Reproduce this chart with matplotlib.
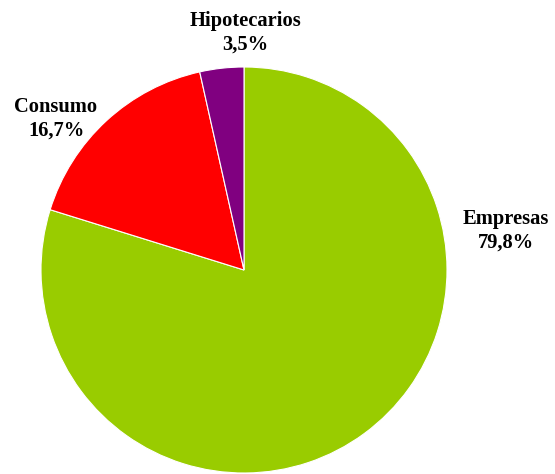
import matplotlib.pyplot as plt

labels = ['Empresas', 'Consumo', 'Hipotecarios']
shares = [79.8, 16.7, 3.5]
colors = ['#99CC00', '#FF0000', '#800080']

W, H = 555, 474
fig = plt.figure(figsize=(W / 100, H / 100), dpi=100)
ax = fig.add_axes([0, 0, 1, 1])

ax.pie(shares, colors=colors, startangle=90, counterclock=False,
       center=(244, H - 270), radius=203, frame=True,
       wedgeprops=dict(edgecolor='white', linewidth=0.8))
ax.set_xlim(0, W)
ax.set_ylim(0, H)
ax.set_aspect('equal')
ax.axis('off')

# label positions (pixels from top-left)
label_pos = [(506, 231), (56, 119), (245, 33)]
for name, val, (x, y) in zip(labels, shares, label_pos):
    txt = f'{name}\n{val:.1f}%'.replace('.', ',')
    ax.text(x, H - y, txt, ha='center', va='center', fontsize=14.8,
            fontweight='bold', family='Liberation Serif', linespacing=1.22)

fig.savefig('out.png', dpi=100)
